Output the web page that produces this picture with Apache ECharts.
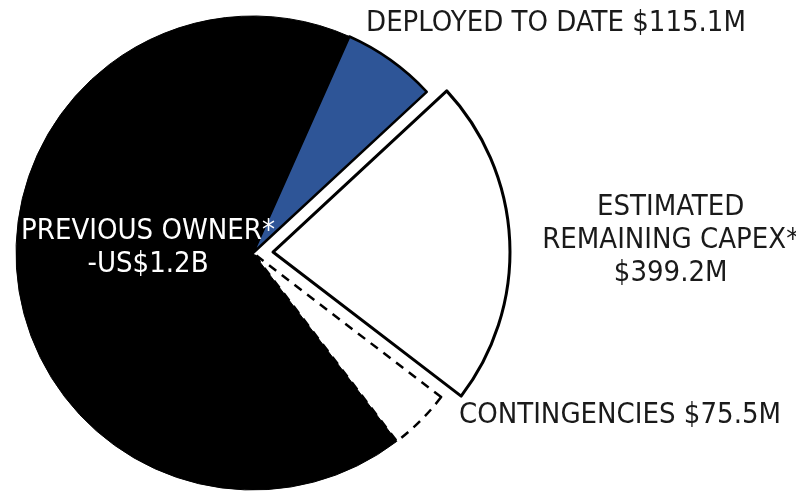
<!DOCTYPE html>
<html>
<head>
<meta charset="utf-8">
<script src="https://cdn.jsdelivr.net/npm/echarts@6/dist/echarts.min.js"></script>
<style>
html,body{margin:0;padding:0;background:#fff;}
#c{width:796px;height:491px;}
</style>
</head>
<body>
<div id="c"></div>
<script>
// Data
var categories = ['DEPLOYED TO DATE', 'ESTIMATED\nREMAINING CAPEX*', 'CONTINGENCIES', 'PREVIOUS OWNER*'];
var valueLabels = ['$115.1M', '$399.2M', '$75.5M', '-US$1.2B'];
var values = [115.1, 399.2, 75.5, 1200]; // US$ millions

var FONT = "'Liberation Sans Narrow', 'DejaVu Sans Condensed', 'Roboto', sans-serif";
var colors = ['#2e5597', '#ffffff', '#ffffff', '#000000'];
var borders = [
  {borderColor:'#000', borderWidth:2.5, borderType:'solid'},
  {borderColor:'#000', borderWidth:3, borderType:'solid'},
  {borderColor:'#000', borderWidth:2.5, borderType:[9,7]},
  {borderColor:'#000', borderWidth:1, borderType:'solid'}
];
var labelPos = [
  {x:556, y:23},
  {x:671, y:236},
  {x:620, y:415},
  {x:148, y:248}
];
var OFFSET = 20;

var data = values.map(function(v, i){
  var sep = (i === 0 || i === 2) ? ' ' : '\n';
  return {
    name: categories[i],
    value: v,
    selected: i === 1,
    itemStyle: Object.assign({color: colors[i]}, borders[i]),
    label: {
      formatter: categories[i] + sep + valueLabels[i],
      color: i === 3 ? '#ffffff' : '#1a1a1a'
    }
  };
});

var chart = echarts.init(document.getElementById('c'));
chart.setOption({
  animation: false,
  backgroundColor: '#fff',
  series: [{
    type: 'pie',
    center: [253, 253],
    radius: [0, 237],
    startAngle: 66,
    clockwise: true,
    selectedMode: 'single',
    selectedOffset: OFFSET,
    avoidLabelOverlap: false,
    emphasis: {disabled: true},
    label: {
      show: true,
      position: 'outside',
      fontFamily: FONT,
      fontSize: 29,
      lineHeight: 33,
      align: 'center'
    },
    labelLine: {show: false},
    labelLayout: function(p){
      var lp = labelPos[p.dataIndex];
      if (p.dataIndex === 1) {
        return {dx: 111, dy: 0, align: 'center', verticalAlign: 'middle', hideOverlap: false};
      }
      return {x: lp.x, y: lp.y, align: 'center', verticalAlign: 'middle', hideOverlap: false};
    },
    data: data
  }]
});
</script>
</body>
</html>
